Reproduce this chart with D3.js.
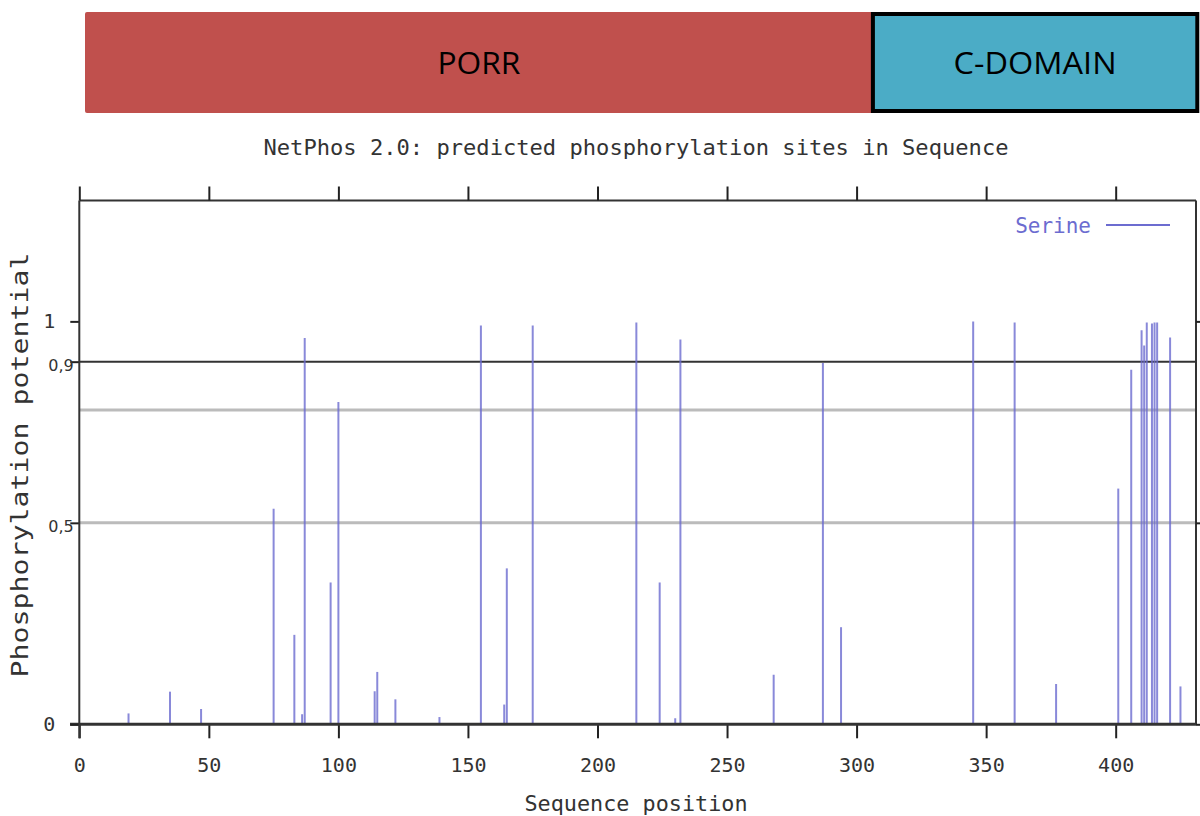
<!DOCTYPE html>
<html>
<head>
<meta charset="utf-8">
<script src="https://cdn.jsdelivr.net/npm/d3@7"></script>
<style>
  body { margin: 0; background: #fff; }
  .mono { font-family: 'DejaVu Sans Mono', monospace; fill: #333; }
  .axis path, .axis line { stroke: #222; }
</style>
</head>
<body>
<svg id="chart" width="1200" height="816"></svg>
<script>
// Serine sites: sequence position and predicted potential
const positions = [19, 35, 47, 75, 83, 86, 87, 97, 100, 114, 115, 122, 139, 155, 164, 165, 175,
  215, 224, 230, 232, 268, 287, 294, 345, 361, 377, 401, 406, 410, 411, 412, 414, 415, 416, 421, 425];
const potentials = [0.027, 0.081, 0.038, 0.535, 0.222, 0.025, 0.959, 0.352, 0.8, 0.082, 0.13, 0.062, 0.018,
  0.99, 0.049, 0.387, 0.99, 0.997, 0.352, 0.015, 0.955, 0.123, 0.897, 0.241, 1.0, 0.997, 0.1,
  0.585, 0.88, 0.978, 0.94, 0.997, 0.995, 0.997, 0.997, 0.96, 0.094];

const domainNames = ['PORR', 'C-DOMAIN'];
const domainStart = [2.2, 306.3];
const domainEnd = [306.3, 431.5];

const xTicks = [0, 50, 100, 150, 200, 250, 300, 350, 400];
const yTicks = [0, 0.5, 0.9, 1];
const thresholds = [0.5, 0.78, 0.9];
const seriesName = 'Serine';

const svg = d3.select('#chart');

const x = d3.scaleLinear().domain([0, 431]).range([79.3, 1196]);
const y = d3.scaleLinear().domain([0, 1.3]).range([724.3, 200.5]);

// Domain boxes on top
const domains = svg.append('g');
domains.selectAll('rect')
  .data(domainNames)
  .join('rect')
  .attr('x', (d, i) => x(domainStart[i]))
  .attr('y', (d, i) => (i === 0 ? 12 : 14))
  .attr('width', (d, i) => x(domainEnd[i]) - x(domainStart[i]))
  .attr('height', (d, i) => (i === 0 ? 101 : 97))
  .attr('rx', (d, i) => (i === 0 ? 2 : 0))
  .attr('fill', (d, i) => (i === 0 ? '#c0504d' : '#4bacc6'))
  .attr('stroke', (d, i) => (i === 0 ? 'none' : '#000'))
  .attr('stroke-width', 4);

domains.selectAll('text')
  .data(domainNames)
  .join('text')
  .attr('x', (d, i) => (x(domainStart[i]) + x(domainEnd[i])) / 2)
  .attr('y', 74)
  .attr('text-anchor', 'middle')
  .attr('textLength', (d, i) => (i === 0 ? 83 : 163))
  .attr('lengthAdjust', 'spacingAndGlyphs')
  .style('font-family', "'Open Sans', sans-serif")
  .style('font-size', '31px')
  .attr('fill', '#000')
  .text((d) => d);

// Title
svg.append('text')
  .attr('class', 'mono')
  .attr('x', 636)
  .attr('y', 155)
  .attr('text-anchor', 'middle')
  .attr('textLength', 745)
  .attr('lengthAdjust', 'spacingAndGlyphs')
  .style('font-size', '21px')
  .text('NetPhos 2.0: predicted phosphorylation sites in Sequence');

// Threshold lines
svg.append('g')
  .selectAll('line')
  .data(thresholds)
  .join('line')
  .attr('x1', x(0))
  .attr('x2', x(431))
  .attr('y1', (d) => y(d))
  .attr('y2', (d) => y(d))
  .attr('stroke', (d) => (d === 0.9 ? '#333' : '#bbb'))
  .attr('stroke-width', (d) => (d === 0.9 ? 2 : 3));

// Frame: top and right border
svg.append('line')
  .attr('x1', x(0)).attr('x2', x(431))
  .attr('y1', y(1.3)).attr('y2', y(1.3))
  .attr('stroke', '#333').attr('stroke-width', 2);
svg.append('line')
  .attr('x1', x(431)).attr('x2', x(431))
  .attr('y1', y(1.3)).attr('y2', y(0))
  .attr('stroke', '#333').attr('stroke-width', 2);

// Bars
svg.append('g')
  .selectAll('line')
  .data(positions)
  .join('line')
  .attr('x1', (d) => x(d))
  .attr('x2', (d) => x(d))
  .attr('y1', y(0))
  .attr('y2', (d, i) => y(potentials[i]))
  .attr('stroke', '#6c6cd0')
  .attr('stroke-opacity', 0.8)
  .attr('stroke-width', 2);

// Bottom axis
const xAxis = svg.append('g')
  .attr('class', 'axis')
  .attr('transform', 'translate(0,' + y(0) + ')')
  .call(d3.axisBottom(x).tickValues(xTicks).tickSize(14).tickSizeOuter(0).tickPadding(20));
xAxis.select('.domain').remove();
xAxis.selectAll('line').attr('stroke-width', 2);
xAxis.selectAll('text')
  .attr('class', 'mono')
  .style('font-size', '20px');
svg.append('line')
  .attr('x1', 70).attr('x2', x(431))
  .attr('y1', y(0)).attr('y2', y(0))
  .attr('stroke', '#333').attr('stroke-width', 3);

// Top mirror ticks
const topAxis = svg.append('g')
  .attr('class', 'axis')
  .attr('transform', 'translate(0,' + y(1.3) + ')')
  .call(d3.axisTop(x).tickValues(xTicks).tickSize(14).tickSizeOuter(0).tickFormat(''));
topAxis.select('.domain').remove();
topAxis.selectAll('line').attr('stroke-width', 2);

// Left axis
const yAxis = svg.append('g')
  .attr('class', 'axis')
  .attr('transform', 'translate(' + x(0) + ',0)')
  .call(d3.axisLeft(y).tickValues(yTicks).tickSize(9).tickSizeOuter(0)
    .tickFormat((d) => String(d).replace('.', ',')));
yAxis.select('.domain').remove();
yAxis.selectAll('line').attr('stroke-width', 2);
yAxis.selectAll('text')
  .attr('class', 'mono')
  .attr('x', (d) => (d === 0 || d === 1 ? -30 : -31))
  .attr('dy', (d) => (d === 0 || d === 1 ? '0.32em' : '0.55em'))
  .attr('text-anchor', (d) => (d === 0 || d === 1 ? 'middle' : 'start'))
  .style('font-family', (d) => (d === 0 || d === 1 ? null : "'DejaVu Sans', sans-serif"))
  .style('font-size', (d) => (d === 0 || d === 1 ? '20px' : '16px'));
svg.append('line')
  .attr('x1', x(0)).attr('x2', x(0))
  .attr('y1', y(1.3)).attr('y2', y(0) + 14)
  .attr('stroke', '#333').attr('stroke-width', 2);

// Right mirror ticks
const rightAxis = svg.append('g')
  .attr('class', 'axis')
  .attr('transform', 'translate(' + x(431) + ',0)')
  .call(d3.axisRight(y).tickValues([0, 0.5, 1]).tickSize(8).tickSizeOuter(0).tickFormat(''));
rightAxis.select('.domain').remove();
rightAxis.selectAll('line').attr('stroke-width', 2);

// Axis labels
svg.append('text')
  .attr('class', 'mono')
  .attr('x', 636)
  .attr('y', 811)
  .attr('text-anchor', 'middle')
  .attr('textLength', 223)
  .attr('lengthAdjust', 'spacingAndGlyphs')
  .style('font-size', '21px')
  .text('Sequence position');

svg.append('text')
  .attr('class', 'mono')
  .attr('transform', 'translate(28,465) rotate(-90)')
  .attr('text-anchor', 'middle')
  .attr('textLength', 425)
  .attr('lengthAdjust', 'spacingAndGlyphs')
  .style('font-size', '23px')
  .text('Phosphorylation potential');

// Legend
svg.append('text')
  .attr('class', 'mono')
  .attr('x', 1091)
  .attr('y', 233)
  .attr('text-anchor', 'end')
  .style('fill', '#6c6cd0')
  .style('font-size', '21px')
  .text(seriesName);
svg.append('line')
  .attr('x1', 1106).attr('x2', 1170)
  .attr('y1', 225).attr('y2', 225)
  .attr('stroke', '#6c6cd0')
  .attr('stroke-width', 2);
</script>
</body>
</html>
